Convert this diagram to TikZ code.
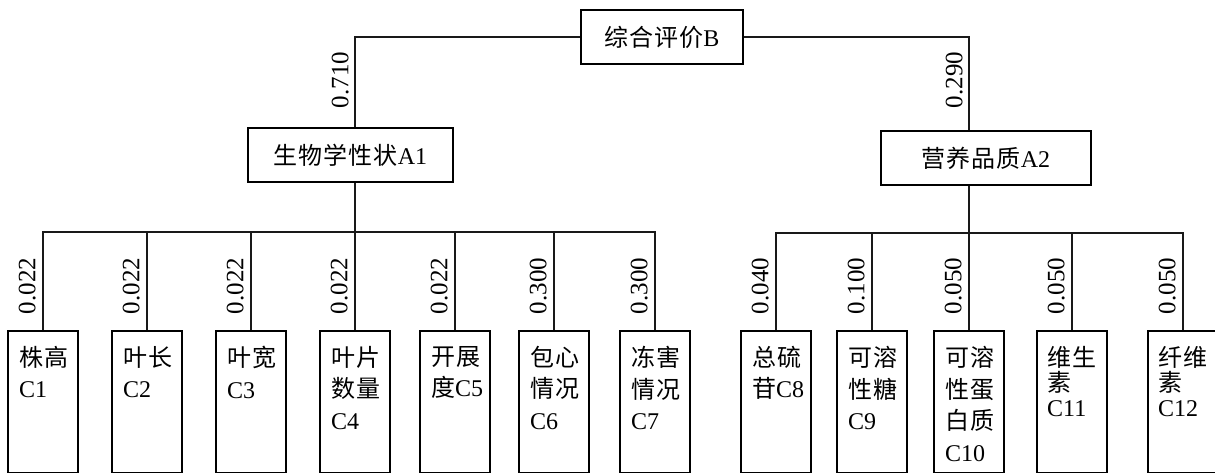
\documentclass[tikz,border=0pt]{standalone}
\usepackage{fontspec}
\setmainfont{Liberation Serif}
\newfontfamily\zhfont[Scale=1.0,LetterSpace=4]{Noto Sans CJK SC}
\newcommand\zh[1]{{\zhfont #1}}
\usetikzlibrary{calc}
\begin{document}
\begin{tikzpicture}[x=1pt,y=-1pt,
  conn/.style={line width=1.2pt, draw=black!90},
  topbox/.style={draw, line width=2pt, inner sep=0pt, minimum height=54pt, font=\fontsize{24}{29}\selectfont},
  leafbox/.style={draw, line width=2pt, minimum width=70pt, minimum height=142pt, anchor=north, inner sep=0pt},
  leaftext/.style={anchor=north west, inner sep=0pt, align=left, font=\fontsize{24}{31.5}\selectfont},
  tighttext/.style={leaftext, font=\fontsize{24}{25}\selectfont},
  wt/.style={rotate=90, anchor=south, inner sep=0pt, font=\fontsize{25}{25}\selectfont}
]
\useasboundingbox (0,0) rectangle (1215,473);

% top levels
\node[topbox, minimum width=162pt] (B) at (662,37) {\zh{综合评价}B};
\node[topbox, minimum width=205pt] (A1) at (350.5,155.5) {\zh{生物学性状}A1};
\node[topbox, minimum width=210pt] (A2) at (986,158) {\zh{营养品质}A2};

% leaves
\node[leafbox] (C1) at (43,330) {};
\node[leafbox] (C2) at (147,330) {};
\node[leafbox] (C3) at (251,330) {};
\node[leafbox] (C4) at (355,330) {};
\node[leafbox] (C5) at (455,330) {};
\node[leafbox] (C6) at (554,330) {};
\node[leafbox] (C7) at (655,330) {};
\node[leafbox] (C8) at (776,330) {};
\node[leafbox] (C9) at (872,330) {};
\node[leafbox] (C10) at (969,330) {};
\node[leafbox] (C11) at (1072,330) {};
\node[leafbox] (C12) at (1183,330) {};

\node[leaftext] (T1) at ([xshift=12pt,yshift=-16pt]C1.north west) {\zh{株高}\\C1};
\node[leaftext] (T2) at ([xshift=12pt,yshift=-16pt]C2.north west) {\zh{叶长}\\C2};
\node[leaftext] (T3) at ([xshift=12pt,yshift=-16pt]C3.north west) {\zh{叶宽}\\C3};
\node[leaftext] (T4) at ([xshift=12pt,yshift=-16pt]C4.north west) {\zh{叶片}\\\zh{数量}\\C4};
\node[leaftext] (T5) at ([xshift=12pt,yshift=-16pt]C5.north west) {\zh{开展}\\\zh{度}C5};
\node[leaftext] (T6) at ([xshift=12pt,yshift=-16pt]C6.north west) {\zh{包心}\\\zh{情况}\\C6};
\node[leaftext] (T7) at ([xshift=12pt,yshift=-16pt]C7.north west) {\zh{冻害}\\\zh{情况}\\C7};
\node[leaftext] (T8) at ([xshift=12pt,yshift=-16pt]C8.north west) {\zh{总硫}\\\zh{苷}C8};
\node[leaftext] (T9) at ([xshift=12pt,yshift=-16pt]C9.north west) {\zh{可溶}\\\zh{性糖}\\C9};
\node[leaftext] (T10) at ([xshift=12pt,yshift=-16pt]C10.north west) {\zh{可溶}\\\zh{性蛋}\\\zh{白质}\\C10};
\node[tighttext] (T11) at ([xshift=11pt,yshift=-16pt]C11.north west) {\zh{维生}\\\zh{素}\\C11};
\node[tighttext] (T12) at ([xshift=11pt,yshift=-16pt]C12.north west) {\zh{纤维}\\\zh{素}\\C12};

% connectors
\coordinate (busL) at (0,232);
\coordinate (busR) at (0,233);
\draw[conn] (B.west) -| (A1.north -| C4.north);
\draw[conn] (B.east) -| (A2.north -| C10.north);
\draw[conn] (A1.south -| C4.north) -- (C4.north);
\draw[conn] (A2.south -| C10.north) -- (C10.north);
\draw[conn] (C1.north) -- (C1.north |- busL) -- (C7.north |- busL) -- (C7.north);
\foreach \c in {C2,C3,C5,C6} \draw[conn] (\c.north) -- (\c.north |- busL);
\draw[conn] (C8.north) -- (C8.north |- busR) -- (C12.north |- busR) -- (C12.north);
\foreach \c in {C9,C11} \draw[conn] (\c.north) -- (\c.north |- busR);

% weights
\coordinate (wtop) at (0,80);
\coordinate (wlow) at (0,286);
\node[wt] (wA1) at ($(C4.north |- wtop)+(-6,0)$) {0.710};
\node[wt] (wA2) at ($(C10.north |- wtop)+(-6,0)$) {0.290};
\node[wt] (w1) at ($(C1.north |- wlow)+(-7,0)$) {0.022};
\node[wt] (w2) at ($(C2.north |- wlow)+(-7,0)$) {0.022};
\node[wt] (w3) at ($(C3.north |- wlow)+(-7,0)$) {0.022};
\node[wt] (w4) at ($(C4.north |- wlow)+(-7,0)$) {0.022};
\node[wt] (w5) at ($(C5.north |- wlow)+(-7,0)$) {0.022};
\node[wt] (w6) at ($(C6.north |- wlow)+(-7,0)$) {0.300};
\node[wt] (w7) at ($(C7.north |- wlow)+(-7,0)$) {0.300};
\node[wt] (w8) at ($(C8.north |- wlow)+(-7,0)$) {0.040};
\node[wt] (w9) at ($(C9.north |- wlow)+(-7,0)$) {0.100};
\node[wt] (w10) at ($(C10.north |- wlow)+(-7,0)$) {0.050};
\node[wt] (w11) at ($(C11.north |- wlow)+(-7,0)$) {0.050};
\node[wt] (w12) at ($(C12.north |- wlow)+(-7,0)$) {0.050};
\end{tikzpicture}
\end{document}
